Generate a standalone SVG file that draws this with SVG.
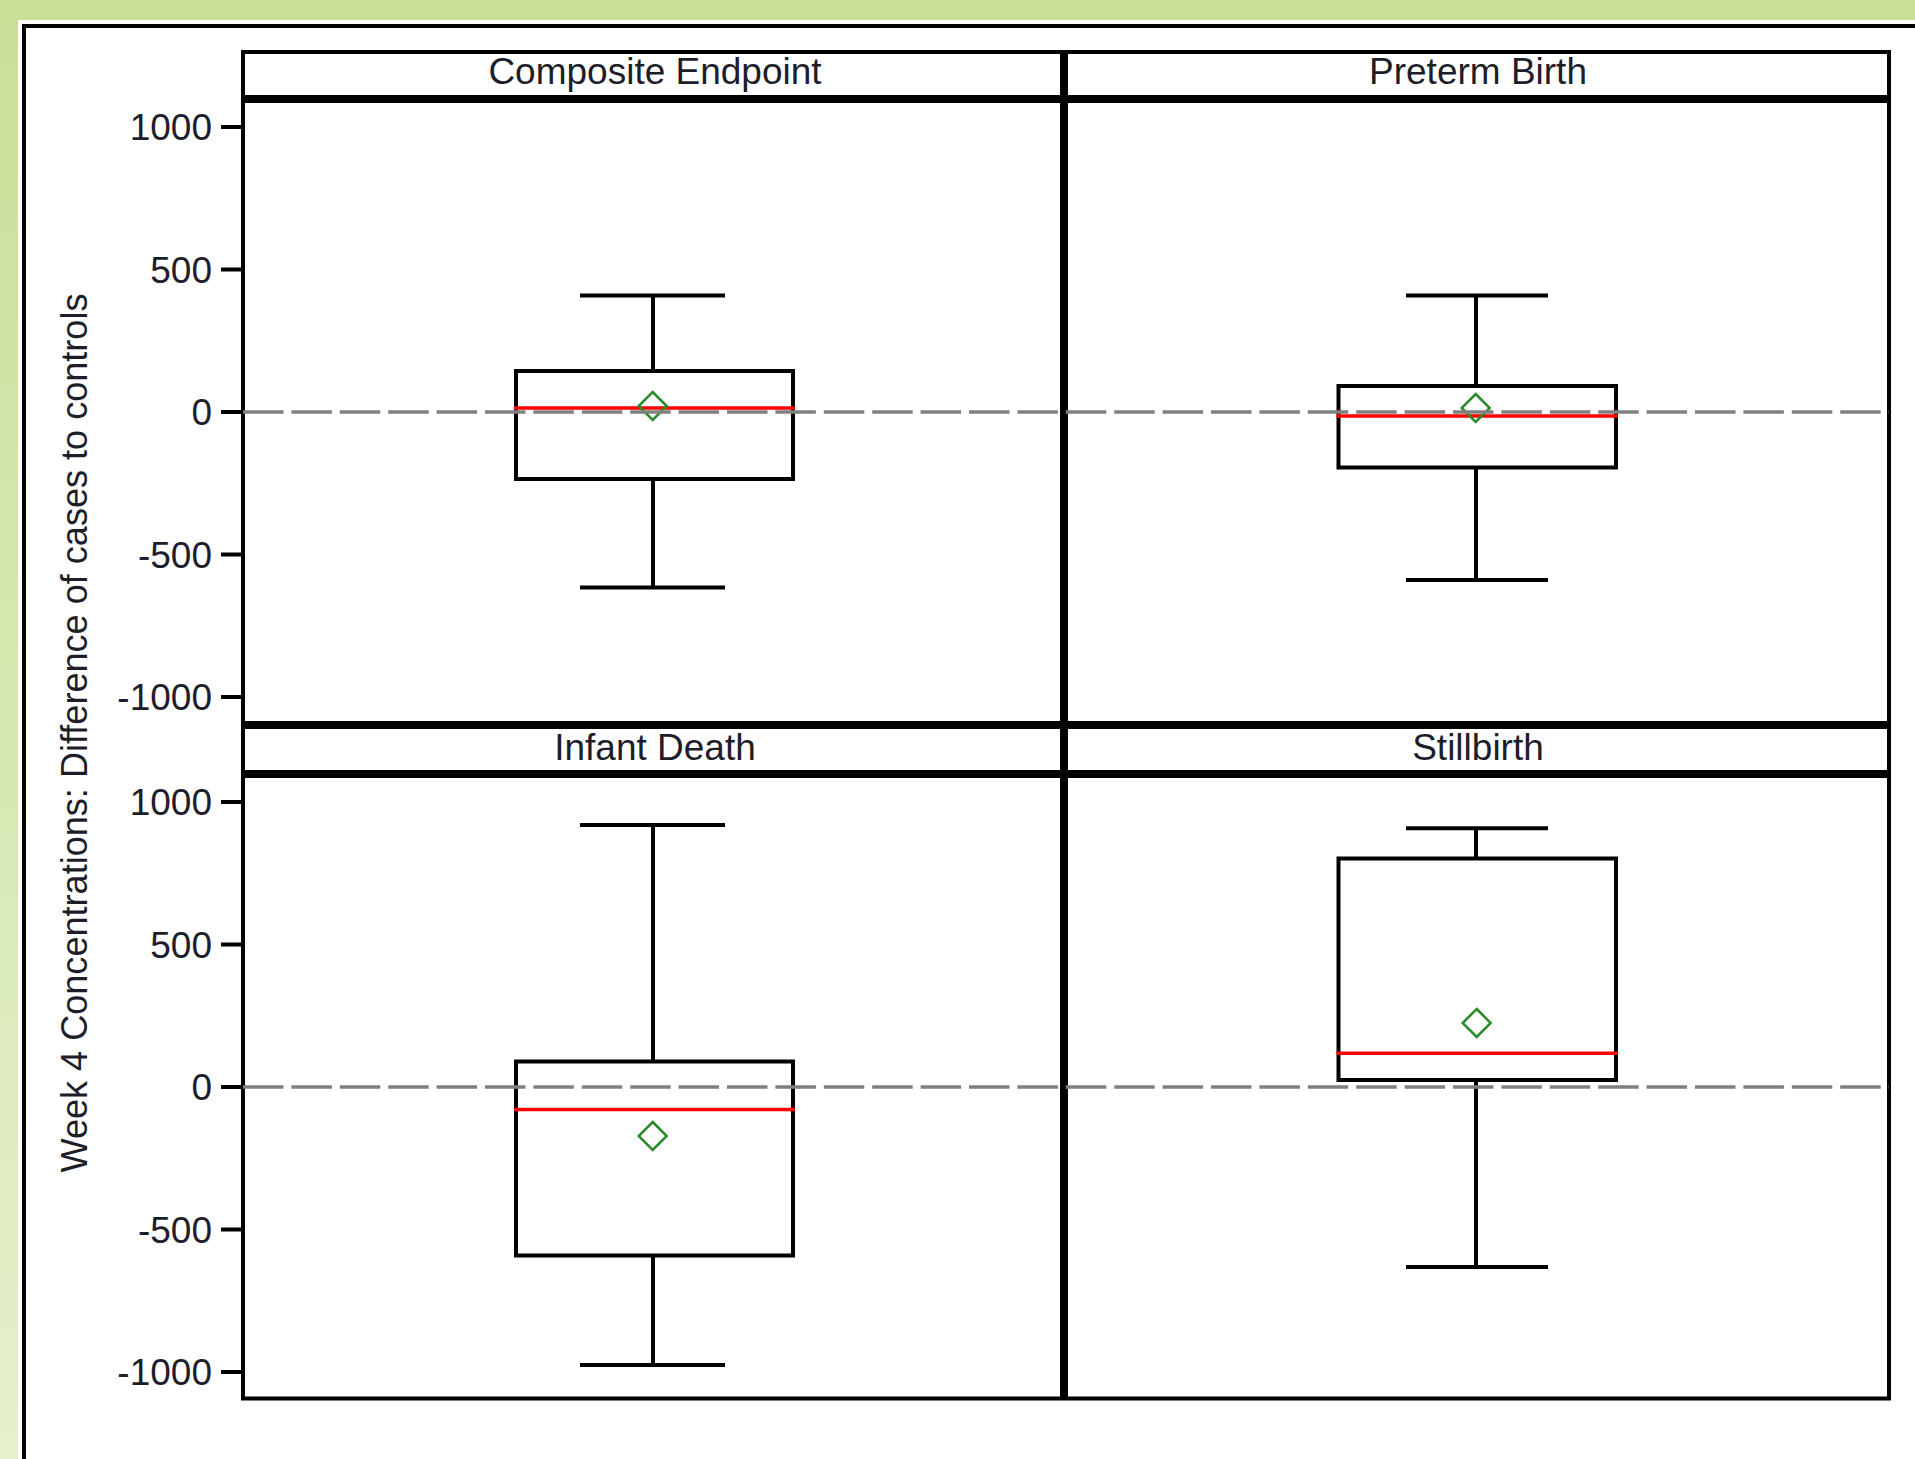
<svg xmlns="http://www.w3.org/2000/svg" width="1915" height="1459" viewBox="0 0 1915 1459">
<defs>
<linearGradient id="bg" x1="0" y1="0" x2="0" y2="1">
<stop offset="0" stop-color="#c9df98"/>
<stop offset="1" stop-color="#e5f0cd"/>
</linearGradient>
<style>
.t{font-family:"Liberation Sans",Arial,sans-serif;font-size:37px;fill:#1e1e2a}
.tick{font-family:"Liberation Sans",Arial,sans-serif;font-size:37px;fill:#1e1e2a;text-anchor:end}
.ttl{font-family:"Liberation Sans",Arial,sans-serif;font-size:37px;fill:#1e1e2a;text-anchor:middle}
.k{stroke:#000;fill:none}
.box{stroke:#000;stroke-width:4;fill:none}
.wh{stroke:#000;stroke-width:4}
.med{stroke:#ff0000;stroke-width:3.5}
.mean{stroke:#2b8a2b;stroke-width:2.5;fill:none}
.ref{stroke:#808080;stroke-width:3.5;stroke-dasharray:40.5 7.9}
</style>
</defs>
<rect x="0" y="0" width="1915" height="1459" fill="url(#bg)"/>
<rect x="0" y="0" width="1915" height="20" fill="#c9df98"/>
<rect x="18" y="20" width="1897" height="1439" fill="#ffffff"/>
<path class="k" stroke-width="4" d="M24,1459 V26 H1915"/>

<g id="axis">
<g class="k" stroke-width="4">
<path d="M221,127 H243 M221,269.5 H243 M221,412 H243 M221,554.5 H243 M221,697 H243"/>
<path d="M221,802 H243 M221,944.5 H243 M221,1087 H243 M221,1229.5 H243 M221,1372 H243"/>
</g>
<text class="tick" x="212" y="140">1000</text>
<text class="tick" x="212" y="282.5">500</text>
<text class="tick" x="212" y="425">0</text>
<text class="tick" x="212" y="567.5">-500</text>
<text class="tick" x="212" y="710">-1000</text>
<text class="tick" x="212" y="815">1000</text>
<text class="tick" x="212" y="957.5">500</text>
<text class="tick" x="212" y="1100">0</text>
<text class="tick" x="212" y="1242.5">-500</text>
<text class="tick" x="212" y="1385">-1000</text>
<text class="ttl" style="font-size:36px" textLength="879" lengthAdjust="spacingAndGlyphs" transform="translate(87,733) rotate(-90)">Week 4 Concentrations: Difference of cases to controls</text>
</g>

<g id="frame">
<rect class="k" stroke-width="4" x="243" y="52" width="1646" height="1346.5"/>
<path class="k" stroke-width="8" d="M243,99 H1889 M243,725 H1889 M243,774 H1889 M1064,52 V1398.5"/>
</g>

<g id="titles">
<text class="ttl" x="655" y="84">Composite Endpoint</text>
<text class="ttl" x="1478" y="84">Preterm Birth</text>
<text class="ttl" x="655" y="760">Infant Death</text>
<text class="ttl" x="1478" y="760">Stillbirth</text>
</g>

<g id="composite">
<path class="wh" d="M653,295.5 V371 M653,479 V587.5 M580,295.5 H725 M580,587.5 H725"/>
<rect class="box" x="516" y="371" width="277" height="108"/>
<path class="med" d="M514,408 H795"/>
<path class="mean" d="M652.7,392 L666.7,406 L652.7,420 L638.7,406 Z"/>
</g>

<g id="preterm">
<path class="wh" d="M1476,295.5 V386 M1476,467.5 V580 M1406,295.5 H1548 M1406,580 H1548"/>
<rect class="box" x="1338.5" y="386" width="277.5" height="81.5"/>
<path class="med" d="M1336.5,416 H1618"/>
<path class="mean" d="M1475.7,394 L1489.7,408 L1475.7,422 L1461.7,408 Z"/>
</g>

<g id="infant">
<path class="wh" d="M653,825 V1061.5 M653,1255.5 V1365 M580,825 H725 M580,1365 H725"/>
<rect class="box" x="516" y="1061.5" width="277" height="194"/>
<path class="med" d="M514,1109.6 H795"/>
<path class="mean" d="M652.7,1122 L666.7,1136 L652.7,1150 L638.7,1136 Z"/>
</g>

<g id="stillbirth">
<path class="wh" d="M1476,828.3 V858.5 M1476,1080 V1267 M1406,828.3 H1548 M1406,1267 H1548"/>
<rect class="box" x="1338.5" y="858.5" width="277.5" height="221.5"/>
<path class="med" d="M1336.5,1053.3 H1618"/>
<path class="mean" d="M1476.7,1009 L1490.7,1023 L1476.7,1037 L1462.7,1023 Z"/>
</g>

<g id="connectors">
<path class="ref" d="M243,412 H1889"/>
<path class="ref" d="M243,1087 H1889"/>
</g>
</svg>
